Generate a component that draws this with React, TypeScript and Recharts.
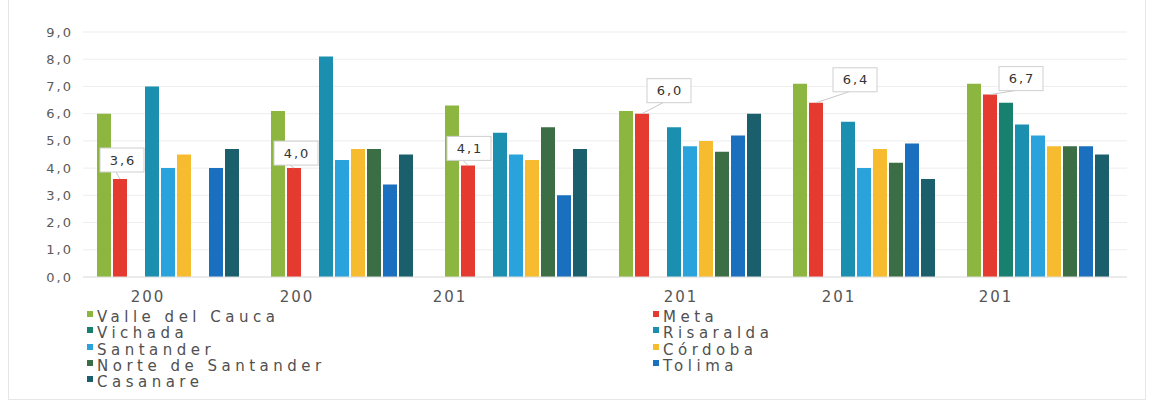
import { BarChart, Bar, XAxis, YAxis, CartesianGrid, Legend, LabelList } from 'recharts';

// years are cut off in the source picture, so keep them as shown
const categories = ['200', '200', '201', '201', '201', '201'];

const valleDelCauca = [6.0, 6.1, 6.3, 6.1, 7.1, 7.1];
const meta = [3.6, 4.0, 4.1, 6.0, 6.4, 6.7];
const vichada = [null, null, null, null, null, 6.4];
const risaralda = [7.0, 8.1, 5.3, 5.5, 5.7, 5.6];
const santander = [4.0, 4.3, 4.5, 4.8, 4.0, 5.2];
const cordoba = [4.5, 4.7, 4.3, 5.0, 4.7, 4.8];
const norteDeSantander = [null, 4.7, 5.5, 4.6, 4.2, 4.8];
const tolima = [4.0, 3.4, 3.0, 5.2, 4.9, 4.8];
const casanare = [4.7, 4.5, 4.7, 6.0, 3.6, 4.5];

const yTicks = [0, 1, 2, 3, 4, 5, 6, 7, 8, 9];

const series = [
  { key: 'valle', name: 'Valle del Cauca', color: '#8db640', values: valleDelCauca },
  { key: 'meta', name: 'Meta', color: '#e53a2f', values: meta },
  { key: 'vichada', name: 'Vichada', color: '#17806f', values: vichada },
  { key: 'risaralda', name: 'Risaralda', color: '#1b8fb0', values: risaralda },
  { key: 'santander', name: 'Santander', color: '#2aa3dc', values: santander },
  { key: 'cordoba', name: 'Córdoba', color: '#f7bb2f', values: cordoba },
  { key: 'norte', name: 'Norte de Santander', color: '#3b6e45', values: norteDeSantander },
  { key: 'tolima', name: 'Tolima', color: '#1a6fbe', values: tolima },
  { key: 'casanare', name: 'Casanare', color: '#1b5f6c', values: casanare },
];

const data = categories.map((name, i) => {
  const row: any = { name };
  series.forEach((s) => {
    row[s.key] = s.values[i];
  });
  return row;
});

// label placement tweaks (px)
const xTickShift = [-22, -47, -68, -11, -27, -44];
const calloutShift = [
  [2, -19],
  [2, -15],
  [1, -17],
  [27, -23],
  [39, -23],
  [31, -16],
];

const fmt = (v: number) => v.toFixed(1).replace('.', ',');

const YTick = (props: any) => {
  const { x, y, payload } = props;
  return (
    <text
      x={x - 10}
      y={y}
      dy="0.35em"
      textAnchor="end"
      fill="#5a5a5a"
      style={{ fontSize: 13, letterSpacing: 2, fontFamily: 'DejaVu Sans' }}
    >
      {fmt(payload.value)}
    </text>
  );
};

const XTick = (props: any) => {
  const { x, y, payload, index } = props;
  return (
    <text
      x={x + (xTickShift[index] ?? 0)}
      y={y + 25}
      textAnchor="middle"
      fill="#555"
      style={{ fontSize: 15, letterSpacing: 2, fontFamily: 'DejaVu Sans' }}
    >
      {payload.value}
    </text>
  );
};

const Callout = (props: any) => {
  const { x, y, width, value, index } = props;
  if (value == null) return null;
  const cx = x + width / 2;
  const [dx, dy] = calloutShift[index] ?? [0, -20];
  const bx = cx + dx;
  const by = y + dy;
  const w = 44;
  const h = 24;
  return (
    <g>
      <line x1={bx - 6} y1={by + h / 2} x2={cx} y2={y} stroke="#c8c8c8" strokeWidth={1} />
      <rect x={bx - w / 2} y={by - h / 2} width={w} height={h} fill="#fff" stroke="#cfcfcf" strokeWidth={1} />
      <text
        x={bx + 1}
        y={by}
        dy="0.35em"
        textAnchor="middle"
        fill="#333"
        style={{ fontSize: 13, letterSpacing: 2, fontFamily: 'DejaVu Sans' }}
      >
        {fmt(value)}
      </text>
    </g>
  );
};

// legend follows the series order (two columns, row by row)
const LegendContent = () => (
  <div
    style={{
      display: 'grid',
      gridTemplateColumns: '566px 300px',
      marginLeft: 87,
      fontFamily: 'DejaVu Sans',
      fontSize: 15,
      letterSpacing: 4.5,
      color: '#505050',
      lineHeight: '16.3px',
      textAlign: 'left',
    }}
  >
    {series.map((s) => (
      <div key={s.key} style={{ display: 'flex', alignItems: 'flex-start', whiteSpace: 'nowrap' }}>
        <span
          style={{
            display: 'inline-block',
            width: 6,
            height: 6,
            marginTop: 2,
            marginRight: 4,
            background: s.color,
          }}
        />
        <span>{s.name}</span>
      </div>
    ))}
  </div>
);

export default function App() {
  return (
    <div style={{ position: 'absolute', left: 0, top: 0, width: 1153, height: 412, background: '#fff' }}>
      <div
        style={{
          position: 'absolute',
          left: 8,
          top: -2,
          width: 1136,
          height: 400,
          border: '1px solid #e6e6e6',
        }}
      />
      <BarChart
        width={1153}
        height={412}
        data={data}
        margin={{ top: 32, right: 26, left: 0, bottom: 105 }}
        barCategoryGap={14}
        barGap={2}
      >
        <CartesianGrid vertical={false} stroke="#ededed" />
        <XAxis
          dataKey="name"
          height={30}
          tickLine={false}
          tickSize={0}
          tickMargin={0}
          axisLine={{ stroke: '#e0e0e0' }}
          tick={<XTick />}
          interval={0}
        />
        <YAxis
          width={83}
          domain={[0, 9]}
          ticks={yTicks}
          tickLine={false}
          tickSize={0}
          tickMargin={0}
          axisLine={false}
          tick={<YTick />}
        />
        <Legend
          layout="vertical"
          align="center"
          verticalAlign="middle"
          wrapperStyle={{ top: 309, left: 0, width: 1153 }}
          content={<LegendContent />}
        />
        {series.map((s) => (
          <Bar key={s.key} dataKey={s.key} name={s.name} fill={s.color} isAnimationActive={false}>
            {s.key === 'meta' ? <LabelList dataKey="meta" content={<Callout />} /> : null}
          </Bar>
        ))}
      </BarChart>
    </div>
  );
}
